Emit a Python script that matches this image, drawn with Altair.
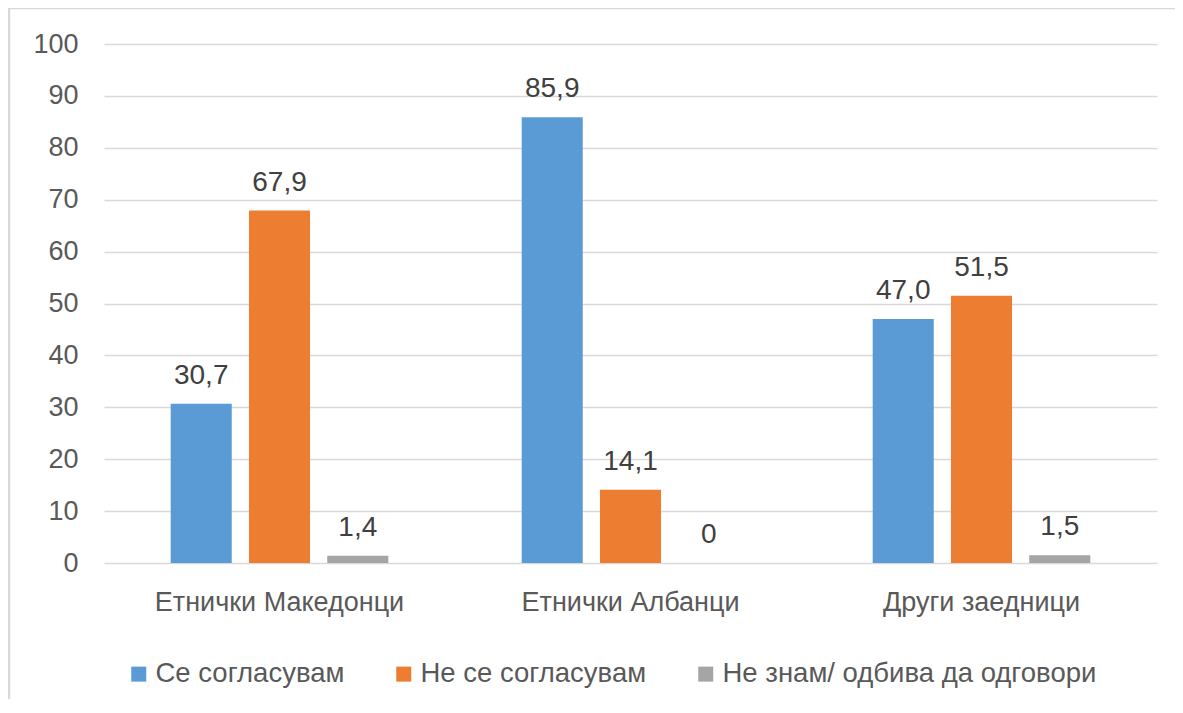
import altair as alt
import pandas as pd

FONT = "Liberation Sans"

categories = ["Етнички Македонци", "Етнички Албанци", "Други заедници"]
series = ["Се согласувам", "Не се согласувам", "Не знам/ одбива да одговори"]
agree = [30.7, 85.9, 47.0]
disagree = [67.9, 14.1, 51.5]
dontknow = [1.4, 0.0, 1.5]
agree_labels = ["30,7", "85,9", "47,0"]
disagree_labels = ["67,9", "14,1", "51,5"]
dontknow_labels = ["1,4", "0", "1,5"]
colors = ["#5B9BD5", "#ED7D31", "#A5A5A5"]
y_ticks = [0, 10, 20, 30, 40, 50, 60, 70, 80, 90, 100]

rows = []
for s, vals, labs in zip(series, [agree, disagree, dontknow],
                         [agree_labels, disagree_labels, dontknow_labels]):
    for c, v, l in zip(categories, vals, labs):
        rows.append({"cat": c, "series": s, "value": v, "label": l})
df = pd.DataFrame(rows)

x = alt.X("cat:N", sort=categories,
          scale=alt.Scale(paddingInner=0.38, paddingOuter=0.19),
          axis=alt.Axis(title=None, labelAngle=0, domain=False, ticks=False,
                        labelPadding=26, labelFontSize=27, labelColor="#595959",
                        labelFont=FONT, labelLimit=0))
xo = alt.XOffset("series:N", sort=series,
                 scale=alt.Scale(domain=series, paddingInner=0.22, paddingOuter=0))
y = alt.Y("value:Q", scale=alt.Scale(domain=[0, 100], nice=False),
          axis=alt.Axis(title=None, values=y_ticks, domain=False, ticks=False,
                        labelPadding=26, labelFontSize=27, labelColor="#595959",
                        labelFont=FONT, gridColor="#D9D9D9", gridWidth=1.5))
color = alt.Color("series:N", sort=series,
                  scale=alt.Scale(domain=series, range=colors),
                  legend=alt.Legend(title=None, orient="none", direction="horizontal",
                                    legendX=21, legendY=616,
                                    symbolType="square", symbolSize=225,
                                    symbolStrokeWidth=0, labelFontSize=27.5,
                                    labelFont=FONT, labelColor="#595959",
                                    labelOffset=3, columnPadding=45, labelLimit=0))

bars = alt.Chart(df).mark_bar().encode(x=x, xOffset=xo, y=y, color=color)
text = alt.Chart(df).mark_text(dy=-20, baseline="alphabetic", fontSize=28,
                               font=FONT, color="#404040").encode(
    x=x, xOffset=xo, y=y, text="label:N")

one = pd.DataFrame({"a": [0]})
border = alt.Chart(one).mark_rect(fill=None, fillOpacity=0, stroke="#D9D9D9",
                                  strokeWidth=2.5).encode(
    x=alt.value(-95), x2=alt.value(2000), y=alt.value(-36), y2=alt.value(2000))

chart = alt.layer(border, bars, text).properties(
    width=1053, height=519,
    padding={"left": 96, "top": 36, "right": 18, "bottom": 136},
    autosize=alt.AutoSizeParams(type="none"),
).configure_view(stroke=None)

chart.save("out.html", embed_options={"renderer": "svg", "actions": False})
